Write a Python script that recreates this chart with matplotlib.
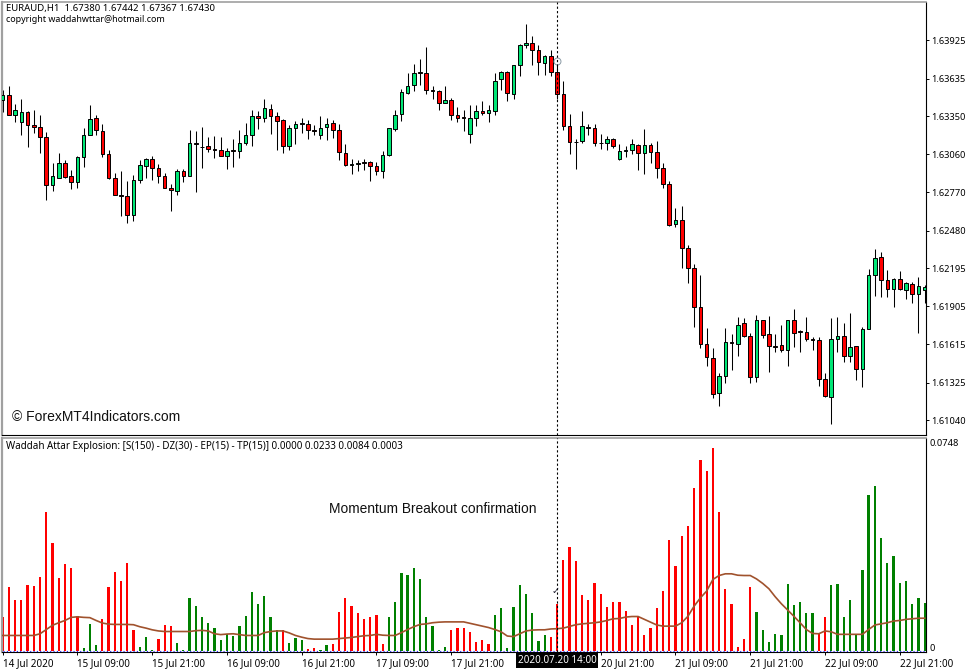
import matplotlib
matplotlib.use("Agg")
import matplotlib.pyplot as plt
import matplotlib.transforms as mtrans

# EURAUD H1 candles
opens = [1.63475,1.63513,1.63359,1.63306,1.63384,1.63280,1.63270,1.63194,1.62827,1.62883,1.62997,1.62891,1.62850,1.63040,1.63209,1.63336,1.63240,1.63065,1.62881,1.62754,1.62746,1.62595,1.62868,1.62974,1.63025,1.62959,1.62891,1.62802,1.62777,1.62934,
         1.62898,1.63146,1.63118,1.63123,1.63103,1.63096,1.63050,1.63090,1.63088,1.63149,1.63209,1.63354,1.63338,1.63407,1.63354,1.63323,1.63123,1.63257,1.63295,1.63293,1.63247,1.63204,1.63265,1.63301,1.63247,1.63073,1.62982,1.62989,1.63004,1.63004,
         1.62967,1.62934,1.63055,1.63255,1.63364,1.63528,1.63586,1.63683,1.63680,1.63551,1.63543,1.63452,1.63470,1.63359,1.63341,1.63214,1.63338,1.63387,1.63374,1.63392,1.63629,1.63683,1.63518,1.63741,1.63890,1.63908,1.63855,1.63756,1.63809,1.63683,
         1.63518,1.63278,1.63156,1.63161,1.63268,1.63263,1.63149,1.63149,1.63179,1.63025,1.63085,1.63096,1.63134,1.63070,1.63134,1.63080,1.62959,1.62837,1.62526,1.62562,1.62349,1.62192,1.61899,1.61616,1.61509,1.61244,1.61378,1.61631,1.61616,1.61775,
         1.61681,1.61368,1.61798,1.61691,1.61605,1.61608,1.61575,1.61798,1.61717,1.61709,1.61653,1.61646,1.61350,1.61213,1.61656,1.61681,1.61524,1.61600,1.61426,1.61734,1.62139,1.62276,1.62106,1.62033,1.62111,1.62028,1.62071,1.61995,1.62030]
highs = [1.63551,1.63576,1.63440,1.63483,1.63387,1.63394,1.63361,1.63230,1.62994,1.63070,1.63020,1.62939,1.63045,1.63263,1.63432,1.63356,1.63293,1.63090,1.62921,1.62931,1.62855,1.62906,1.63020,1.63030,1.63050,1.62984,1.62918,1.62832,1.62951,1.62951,
         1.63242,1.63237,1.63265,1.63192,1.63197,1.63189,1.63108,1.63179,1.63247,1.63298,1.63394,1.63389,1.63483,1.63445,1.63381,1.63326,1.63280,1.63313,1.63338,1.63323,1.63280,1.63349,1.63338,1.63323,1.63293,1.63141,1.63027,1.63020,1.63025,1.63007,
         1.63002,1.63083,1.63263,1.63399,1.63559,1.63680,1.63743,1.63786,1.63875,1.63576,1.63551,1.63579,1.63488,1.63419,1.63394,1.63437,1.63437,1.63462,1.63437,1.63680,1.63690,1.63690,1.63741,1.63900,1.64052,1.63956,1.63887,1.63812,1.63855,1.63794,
         1.63614,1.63364,1.63179,1.63392,1.63293,1.63288,1.63212,1.63197,1.63187,1.63136,1.63121,1.63179,1.63141,1.63250,1.63149,1.63159,1.62994,1.62855,1.62655,1.62668,1.62369,1.62223,1.62139,1.61737,1.61585,1.61395,1.61737,1.61694,1.61825,1.61813,
         1.61699,1.61838,1.61800,1.61831,1.61694,1.61762,1.61800,1.61884,1.61724,1.61825,1.61674,1.61669,1.61395,1.61813,1.61820,1.61780,1.61856,1.61603,1.61750,1.62185,1.62339,1.62314,1.62180,1.62116,1.62172,1.62086,1.62086,1.62127,1.62066]
lows = [1.63381,1.63356,1.63306,1.63204,1.63116,1.63222,1.63073,1.62711,1.62784,1.62883,1.62883,1.62797,1.62800,1.62964,1.63204,1.63204,1.63040,1.62870,1.62749,1.62590,1.62539,1.62554,1.62843,1.62883,1.62863,1.62843,1.62800,1.62630,1.62749,1.62850,
        1.62896,1.62772,1.62959,1.63078,1.63035,1.63045,1.62951,1.62964,1.63035,1.63134,1.63126,1.63255,1.63303,1.63212,1.63096,1.63073,1.63090,1.63136,1.63222,1.63179,1.63209,1.63174,1.63166,1.63184,1.63015,1.62972,1.62908,1.62934,1.62939,1.62860,
        1.62901,1.62881,1.63047,1.63237,1.63313,1.63516,1.63541,1.63584,1.63516,1.63478,1.63394,1.63450,1.63318,1.63306,1.63237,1.63149,1.63273,1.63361,1.63306,1.63356,1.63551,1.63462,1.63483,1.63657,1.63867,1.63741,1.63665,1.63665,1.63652,1.63483,
        1.63242,1.63065,1.62946,1.63146,1.63204,1.63121,1.63103,1.63096,1.63108,1.63015,1.63040,1.63060,1.62939,1.62913,1.62994,1.62881,1.62805,1.62516,1.62509,1.62197,1.62078,1.61750,1.61585,1.61454,1.61206,1.61150,1.61319,1.61421,1.61529,1.61669,
        1.61325,1.61332,1.61661,1.61403,1.61560,1.61555,1.61451,1.61598,1.61560,1.61643,1.61572,1.61302,1.61218,1.61011,1.61560,1.61484,1.61484,1.61345,1.61294,1.61729,1.61985,1.61977,1.61977,1.61901,1.62028,1.61960,1.61927,1.61699,1.61927]
closes = [1.63510,1.63361,1.63399,1.63384,1.63285,1.63268,1.63194,1.62827,1.62898,1.62994,1.62888,1.62850,1.63042,1.63204,1.63331,1.63247,1.63063,1.62881,1.62754,1.62744,1.62595,1.62868,1.62982,1.63027,1.62959,1.62891,1.62807,1.62792,1.62929,1.62898,
          1.63149,1.63141,1.63113,1.63103,1.63096,1.63050,1.63088,1.63085,1.63146,1.63207,1.63354,1.63338,1.63412,1.63351,1.63316,1.63121,1.63257,1.63293,1.63290,1.63247,1.63237,1.63263,1.63293,1.63247,1.63080,1.62982,1.62989,1.62997,1.62997,1.62969,
          1.62934,1.63058,1.63260,1.63359,1.63536,1.63581,1.63680,1.63678,1.63551,1.63541,1.63452,1.63470,1.63359,1.63338,1.63336,1.63338,1.63389,1.63374,1.63394,1.63619,1.63685,1.63526,1.63736,1.63893,1.63908,1.63852,1.63761,1.63809,1.63683,1.63518,
          1.63278,1.63151,1.63151,1.63278,1.63263,1.63146,1.63144,1.63179,1.63121,1.63088,1.63096,1.63136,1.63070,1.63134,1.63078,1.62959,1.62837,1.62519,1.62562,1.62344,1.62192,1.61899,1.61616,1.61517,1.61236,1.61378,1.61631,1.61623,1.61762,1.61679,
          1.61368,1.61798,1.61684,1.61603,1.61598,1.61575,1.61798,1.61699,1.61709,1.61653,1.61646,1.61350,1.61221,1.61656,1.61676,1.61527,1.61598,1.61426,1.61734,1.62139,1.62271,1.62101,1.62033,1.62111,1.62033,1.62078,1.62000,1.62056,1.62053]

# Waddah Attar Explosion histogram and signal line
explosion = [.0120,.0226,.0182,.0182,.0235,.0229,.0262,.0493,.0382,.0259,.0306,.0295,.0123,.0012,.0094,.0020,.0114,.0226,.0281,.0249,.0313,.0075,.0014,.0051,.0002,.0041,.0091,.0087,.0027,.0004,
             .0188,.0158,.0122,.0100,.0080,.0039,.0059,.0052,.0088,.0125,.0207,.0168,.0193,.0119,.0075,.0075,.0027,.0045,.0038,.0006,.0012,.0002,.0020,.0024,.0138,.0189,.0158,.0133,.0112,.0119,
             .0127,.0024,.0122,.0174,.0275,.0270,.0295,.0253,.0119,.0088,.0005,.0014,.0073,.0080,.0080,.0069,.0031,.0039,.0025,.0126,.0151,.0012,.0154,.0232,.0203,.0133,.0036,.0055,.0051,.0168,
             .0322,.0368,.0320,.0199,.0180,.0239,.0203,.0154,.0174,.0174,.0140,.0091,.0119,.0055,.0080,.0152,.0211,.0394,.0302,.0405,.0443,.0575,.0676,.0635,.0717,.0493,.0218,.0168,.0014,.0041,
             .0228,.0138,.0073,.0031,.0059,.0055,.0238,.0162,.0174,.0135,.0135,.0062,.0119,.0232,.0236,.0122,.0179,.0059,.0285,.0553,.0584,.0399,.0312,.0335,.0242,.0249,.0165,.0189,.0171]
signal = [.0055,.0055,.0055,.0055,.0055,.0055,.0061,.0076,.0091,.0100,.0108,.0119,.0121,.0119,.0118,.0108,.0099,.0095,.0094,.0094,.0094,.0093,.0086,.0081,.0075,.0071,.0069,.0069,.0069,.0069,
          .0069,.0072,.0073,.0071,.0061,.0058,.0060,.0061,.0058,.0055,.0055,.0055,.0065,.0069,.0071,.0071,.0064,.0055,.0049,.0044,.0042,.0042,.0042,.0042,.0044,.0046,.0048,.0051,.0054,.0055,
          .0059,.0056,.0055,.0055,.0065,.0076,.0086,.0094,.0096,.0100,.0102,.0103,.0103,.0103,.0103,.0098,.0093,.0088,.0083,.0076,.0068,.0053,.0051,.0061,.0071,.0074,.0075,.0075,.0078,.0079,
          .0081,.0087,.0093,.0096,.0098,.0100,.0103,.0108,.0114,.0115,.0120,.0122,.0122,.0112,.0102,.0092,.0088,.0088,.0088,.0100,.0123,.0159,.0188,.0212,.0253,.0267,.0273,.0273,.0268,.0267,
          .0267,.0255,.0239,.0220,.0192,.0167,.0145,.0123,.0100,.0076,.0062,.0061,.0071,.0068,.0059,.0059,.0059,.0059,.0059,.0076,.0092,.0096,.0100,.0106,.0108,.0112,.0114,.0116,.0116]
# first and last bar of each falling stretch, the rest of the histogram is green
red_runs = [(0, 12), (16, 21), (25, 27), (45, 45), (49, 50), (53, 61), (72, 78), (88, 120), (131, 132)]

price_ticks = [1.63925, 1.63635, 1.63350, 1.63060, 1.62770, 1.62480, 1.62195, 1.61905, 1.61615, 1.61325, 1.61040]
time_ticks = [0, 12, 24, 36, 48, 60, 72, 84, 96, 108, 120, 132, 144]
# the 20 Jul 09:00 label sits behind the cursor time box in the terminal
time_labels = ["14 Jul 2020", "15 Jul 09:00", "15 Jul 21:00", "16 Jul 09:00", "16 Jul 21:00", "17 Jul 09:00", "17 Jul 21:00",
               "", "20 Jul 21:00", "21 Jul 09:00", "21 Jul 21:00", "22 Jul 09:00", "22 Jul 21:00"]
cursor_bar = 89
cursor_time = "2020.07.20 14:00"

W, H = 977, 672
UI_FONT = "Noto Sans"

def px_rect(left, top, right, bottom):
    return [left / W, 1 - bottom / H, (right - left) / W, (bottom - top) / H]

fig = plt.figure(figsize=(W / 100, H / 100), dpi=100, facecolor="white")
ax = fig.add_axes(px_rect(2, 1.5, 925.5, 435))
ax2 = fig.add_axes(px_rect(2, 437.5, 925.5, 651.5))

bars = range(len(opens))
up_col, down_col = "#00e676", "#ff0000"
ax.vlines(bars, lows, highs, color="black", lw=0.75, zorder=2)
for i in bars:
    o, c = opens[i], closes[i]
    ax.bar(i, abs(c - o), bottom=min(o, c), width=0.58, color=up_col if c > o else down_col,
           edgecolor="black", lw=0.7, zorder=3)
ax.set_xlim(-0.107, 148.13)
ax.set_ylim(1.60926, 1.64221)
ax.set_yticks(price_ticks)
ax.set_yticklabels([f"{p:.5f}" for p in price_ticks])
ax.plot(cursor_bar, 1.63766, marker="o", ms=5, mfc="white", mec="#8a9aa5", mew=0.7, zorder=5)

red = set()
for a, b in red_runs:
    red.update(range(a, b + 1))
hist_colors = ["#ff0000" if i in red else "#008000" for i in bars]
ax2.bar(bars, explosion, width=0.36, color=hist_colors, lw=0, zorder=2)
ax2.plot(bars, signal, color="#a0522d", lw=1.2, zorder=3)
ax2.plot(bars, [0] * len(opens), color="#2020ff", lw=0.8, ls=(0, (1, 2)), zorder=4, clip_on=False)
ax2.set_xlim(-0.107, 148.13)
ax2.set_ylim(-0.00017, 0.0755)
ax2.set_yticks([0.0748, 0])
ax2.set_yticklabels(["0.0748", "0"])
for tick, va in zip(ax2.yaxis.get_major_ticks(), ["top", "baseline"]):
    tick.label2.set_va(va)
ax2.set_xticks(time_ticks)
ax2.set_xticklabels(time_labels, ha="left")

for a in (ax, ax2):
    a.axvline(cursor_bar, color="black", lw=0.8, ls=(0, (2, 2)), zorder=6)
    a.yaxis.tick_right()
    a.spines["left"].set_color("#a0a0a0")
    a.spines["left"].set_linewidth(1.6)
    a.spines["top"].set_color("#a0a0a0")
    a.spines["top"].set_linewidth(1.2)
    a.spines["right"].set_color("black")
    a.spines["bottom"].set_color("black")
    a.tick_params(axis="y", length=2.2, width=0.7, pad=2, labelsize=6.7, labelfontfamily=UI_FONT)
ax.tick_params(axis="x", bottom=False, labelbottom=False)
ax2.tick_params(axis="y", length=0, pad=3)
ax2.tick_params(axis="x", length=2.5, width=0.7, pad=2.5, labelsize=7.1, labelfontfamily=UI_FONT)

def label(x, y, s, **kw):
    fig.text(x / W, 1 - y / H, s, va="center", **kw)

label(6, 9, "EURAUD,H1  1.67380 1.67442 1.67367 1.67430", family=UI_FONT, fontsize=6.9)
label(6, 20, "copyright waddahwttar@hotmail.com", family=UI_FONT, fontsize=6.45)
label(6, 446, "Waddah Attar Explosion: [S(150) - DZ(30) - EP(15) - TP(15)] 0.0000 0.0233 0.0084 0.0003", family=UI_FONT, fontsize=7.1)
label(12, 417, "\u00a9 ForexMT4Indicators.com", family="Liberation Sans", fontsize=10.0, color="#101010")
label(329, 509, "Momentum Breakout confirmation", family="Liberation Sans", fontsize=9.9, color="#101010")

trans = mtrans.blended_transform_factory(ax2.transData, ax2.transAxes)
ax2.text(cursor_bar, -0.044, cursor_time, transform=trans, ha="center", va="center", color="white",
         family=UI_FONT, fontsize=7.1, clip_on=False, zorder=10,
         bbox=dict(boxstyle="square,pad=0.2", fc="black", ec="black", lw=0))
ax2.text(cursor_bar - 0.2, 0.283, "\u2713", transform=trans, ha="center", va="center", fontsize=7, color="#202030", zorder=7)

plt.savefig("out.png", dpi=100)
